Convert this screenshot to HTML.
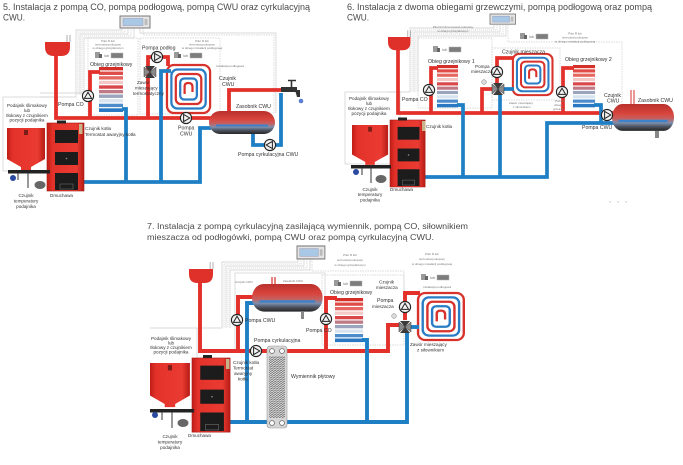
<!DOCTYPE html>
<html><head><meta charset="utf-8"><style>
html,body{margin:0;padding:0;background:#fff;}
svg{display:block;}
text{font-family:"Liberation Sans",sans-serif;}
.ti{font-size:9.3px;fill:#4a4a4a;}
.ti7{font-size:8.6px;fill:#4a4a4a;}
.l{font-size:5.2px;fill:#333;}
.s{font-size:4.6px;fill:#333;}
.t{font-size:3px;fill:#777;}
</style></head><body>
<svg width="683" height="465" viewBox="0 0 683 465" xmlns="http://www.w3.org/2000/svg">
<defs>
 <linearGradient id="bg" x1="0" y1="0" x2="1" y2="0">
  <stop offset="0" stop-color="#c01d17"/><stop offset="0.15" stop-color="#e3322a"/>
  <stop offset="0.8" stop-color="#ea3b32"/><stop offset="1" stop-color="#b51b15"/>
 </linearGradient>
 <linearGradient id="tankg" x1="0" y1="0" x2="0" y2="1">
  <stop offset="0" stop-color="#b8302c"/><stop offset="0.35" stop-color="#d9443c"/>
  <stop offset="0.55" stop-color="#c66060"/><stop offset="0.7" stop-color="#7b8fae"/>
  <stop offset="0.85" stop-color="#4a4f5a"/><stop offset="1" stop-color="#262626"/>
 </linearGradient>
 <pattern id="hatch" width="3" height="2.2" patternUnits="userSpaceOnUse">
  <path d="M0,2 L3,0.4" stroke="#555" stroke-width="0.7"/>
 </pattern>
 <g id="pump">
  <circle r="5.6" fill="#f2f2f2" stroke="#222" stroke-width="1.1"/>
  <path d="M-2.4,-3.6 L3.8,0 L-2.4,3.6 Z" fill="none" stroke="#222" stroke-width="1"/>
 </g>
 <g id="valve">
  <path d="M-5,-6 H5 L0,0 Z M-5,6 H5 L0,0 Z" fill="#3a3a3a"/>
  <path d="M-6,-5 V5 L0,0 Z M6,-5 V5 L0,0 Z" fill="#8a8a8a" stroke="#333" stroke-width="0.5"/>
 </g>
 <g id="boiler">
  <rect x="0" y="0" width="37" height="68" fill="url(#bg)" stroke="#a81d18" stroke-width="0.6"/>
  <rect x="8" y="7" width="23" height="13" fill="#1c1c1c"/>
  <rect x="8" y="29" width="23" height="13" fill="#1c1c1c"/>
  <circle cx="19.5" cy="35.5" r="0.8" fill="#888"/>
  <rect x="8" y="50" width="23" height="17" fill="#1c1c1c"/>
  <rect x="13" y="61" width="13" height="5" fill="none" stroke="#777" stroke-width="0.5"/>
 </g>
 <g id="feeder">
  <path d="M0,0 H38 V31 L24,39 V42 H14 V39 L0,31 Z" fill="url(#bg)"/>
  <rect x="17" y="2" width="4" height="5" fill="#7a1c18"/>
 </g>
 <g id="rad">
  <rect x="0" y="0" width="24" height="3.3" fill="#d42f29"/>
  <rect x="0" y="4.5" width="24" height="3.3" fill="#df4b45"/>
  <rect x="0" y="9" width="24" height="3.3" fill="#e66761"/>
  <rect x="0" y="13.5" width="24" height="3.3" fill="#f3c9c7"/>
  <rect x="0" y="18" width="24" height="3.3" fill="#d9474a"/>
  <rect x="0" y="22.5" width="24" height="3.3" fill="#c07a86"/>
  <rect x="0" y="27" width="24" height="3.3" fill="#9aa5bd"/>
  <rect x="0" y="31.5" width="24" height="3.3" fill="#d8e3f0"/>
  <rect x="0" y="36" width="24" height="3.3" fill="#4d8ccb"/>
  <rect x="0" y="40.5" width="24" height="3.6" fill="#2a78c2"/>
 </g>
 <g id="spiral" fill="none" stroke-width="2.3">
  <rect x="1" y="1" width="44" height="48" rx="7" stroke="#d8322c"/>
  <rect x="5.5" y="5.5" width="35" height="39" rx="6" stroke="#2a7dc4"/>
  <rect x="10" y="10" width="26" height="30" rx="5" stroke="#d8322c"/>
  <rect x="14.5" y="14.5" width="17" height="21" rx="4" stroke="#2a7dc4"/>
  <path d="M19,30 V22 Q19,19 23,19 Q27,19 27,23 V28" stroke="#d8322c"/>
 </g>
 <g id="tank">
  <rect x="0" y="0" width="66" height="23" rx="11" ry="11.5" fill="url(#tankg)"/>
  <path d="M7,14.5 H59" stroke="#3c82c8" stroke-width="2"/>
 </g>
 <g id="ctrl">
  <rect x="0" y="0" width="30" height="12" fill="#e4e4e4" stroke="#7a7a7a" stroke-width="1"/>
  <rect x="3" y="2.5" width="20" height="7" fill="#a8c8e6" stroke="#88a" stroke-width="0.4"/>
  <rect x="24.5" y="3" width="3" height="6" fill="#bbb"/>
 </g>
 <g id="ico">
  <rect x="0" y="0" width="5" height="6" fill="#9a9a9a"/>
  <rect x="4" y="2" width="3" height="4" fill="#666"/>
  <rect x="16" y="1" width="12" height="5" fill="#7d7d7d" stroke="#b5b5b5" stroke-width="0.5"/>
 </g>
 <g id="exp">
  <path d="M0,0 H25 V5 Q25,14 16,14 H9 Q0,14 0,5 Z" fill="#e0302a"/>
  <path d="M22,0 V-7 M25,0 V-7" stroke="#999" stroke-width="0.8"/>
 </g>
</defs>

<!-- ================= TITLES ================= -->
<text class="ti" x="3" y="9.8" textLength="307" lengthAdjust="spacingAndGlyphs">5. Instalacja z pompą CO, pompą podłogową, pompą CWU oraz cyrkulacyjną</text>
<text class="ti" x="3" y="20.5" textLength="22" lengthAdjust="spacingAndGlyphs">CWU.</text>
<text class="ti" x="347" y="9.8" textLength="305" lengthAdjust="spacingAndGlyphs">6. Instalacja z dwoma obiegami grzewczymi, pompą podłogową oraz pompą</text>
<text class="ti" x="347" y="20.5" textLength="22" lengthAdjust="spacingAndGlyphs">CWU.</text>
<text class="ti7" x="147" y="229" textLength="321" lengthAdjust="spacingAndGlyphs">7. Instalacja z pompą cyrkulacyjną zasilającą wymiennik, pompą CO, siłownikiem</text>
<text class="ti7" x="147" y="240" textLength="287" lengthAdjust="spacingAndGlyphs">mieszacza od podłogówki, pompą CWU oraz pompą cyrkulacyjną CWU.</text>

<!-- ================= DIAGRAM 5 ================= -->
<g stroke="#cdcdcd" stroke-width="0.7" fill="none">
 <path d="M122,28 V30 H76 V97 H40"/>
 <path d="M125,28 V32 H78 V95" stroke-dasharray="1.2,0.8"/>
 <path d="M128,28 V34 H80 V95"/>
 <path d="M131,28 V36 H82 V95" stroke-dasharray="1.2,0.8"/>
 <path d="M134,28 V38 H84 V95"/>
 <rect x="3" y="97" width="54" height="74"/>
 <path d="M40,93 H84"/>
 <rect x="88" y="38" width="50" height="77" stroke-dasharray="1.5,1"/>
 <path d="M140,28 V33 H276 V113"/>
 <path d="M143,28 V35 H274 V113" stroke-dasharray="1.5,1"/>
 <rect x="140" y="38" width="80" height="76" stroke-dasharray="1.5,1"/>
</g>
<use href="#ctrl" transform="translate(120,16)"/>
<use href="#exp" transform="translate(45,42)"/>
<use href="#rad" transform="translate(99,67) scale(1,1.02)"/>
<use href="#spiral" transform="translate(166,64) scale(0.98,1)"/>
<g fill="none" stroke-width="3.8" stroke-linejoin="miter">
 <path d="M56,55 V118 H212" stroke="#e3302b"/>
 <path d="M90,118 V72 H100" stroke="#e3302b"/>
 <path d="M148,118 V57 H168 V66" stroke="#e3302b"/>
 <path d="M229,112 V90 H288" stroke="#e3302b"/>
 <path d="M122,109 H126 V182" stroke="#1f7fc4"/>
 <path d="M84,182 H200 V128 H211" stroke="#1f7fc4"/>
 <path d="M171,71 H161 V182" stroke="#1f7fc4"/>
 <path d="M253,133 V145 H281 V93" stroke="#1f7fc4"/>
</g>
<use href="#tank" transform="translate(209,111)"/>
<use href="#boiler" transform="translate(47,123)"/>
<rect x="57" y="120.5" width="9" height="3" fill="#222"/>
<rect x="79" y="124" width="3.5" height="10" fill="#c9b38a"/>
<use href="#feeder" transform="translate(7,128)"/>
<rect x="8" y="170" width="42" height="3.5" fill="#222"/>
<path d="M28,173 V188 M18,173 V180" stroke="#333" stroke-width="1"/>
<circle cx="13" cy="178" r="3" fill="#2a4aa0"/>
<ellipse cx="40" cy="185" rx="5.5" ry="4" fill="#666"/>
<use href="#pump" transform="translate(88,96) rotate(-90)"/>
<use href="#pump" transform="translate(157,57)"/>
<use href="#pump" transform="translate(186,118)"/>
<use href="#pump" transform="translate(270,145) rotate(180)"/>
<use href="#valve" transform="translate(150,72)"/>
<path d="M281,87 H297 V92 H281 Z" fill="#333"/>
<path d="M295,90 H300 V97 H297 Z" fill="#333"/>
<path d="M291.5,87 V81 M288,80.5 H296" stroke="#333" stroke-width="1.6"/>
<circle cx="301" cy="101" r="2.3" fill="#5b7fd0"/>
<use href="#ico" transform="translate(95,52)"/>
<text class="t" x="104" y="57" style="font-size:3.8px">lub</text>
<use href="#ico" transform="translate(174,52)"/>
<text class="t" x="183" y="57" style="font-size:3.8px">lub</text>
<text class="t" text-anchor="middle" x="108" y="42">Pilot R lub</text>
<text class="t" text-anchor="middle" x="108" y="45.5">termostat pokojowy</text>
<text class="t" text-anchor="middle" x="108" y="49">w obiegu grzejnikowym</text>
<text class="t" text-anchor="middle" x="202" y="42">Pilot R lub</text>
<text class="t" text-anchor="middle" x="202" y="45.5">termostat pokojowy</text>
<text class="t" text-anchor="middle" x="202" y="49">w obiegu instalacji podłogowej</text>
<text class="t" x="216" y="67">Instalacja podłogowa</text>
<text class="l" x="90" y="66">Obieg grzejnikowy</text>
<text class="l" x="142" y="49.5">Pompa podłog</text>
<text class="s" x="137" y="84">Zawór</text>
<text class="s" x="135" y="89.5">mieszający</text>
<text class="s" x="133" y="95">termostatyczny</text>
<text class="l" x="58" y="106">Pompa CO</text>
<g class="s" text-anchor="middle">
 <text x="27" y="107">Podajnik ślimakowy</text>
 <text x="27" y="112">lub</text>
 <text x="27" y="117">tłokowy z czujnikiem</text>
 <text x="27" y="121.5">pozycji podajnika</text>
 <text x="26" y="197">Czujnik</text>
 <text x="26" y="202.5">temperatury</text>
 <text x="26" y="208">podajnika</text>
</g>
<text class="s" x="50" y="197">Dmuchawa</text>
<text class="s" x="85" y="130">Czujnik kotła</text>
<text class="s" x="85" y="136">Termostat awaryjny kotła</text>
<text class="l" x="219" y="80">Czujnik</text>
<text class="l" x="222" y="86">CWU</text>
<text class="l" x="236" y="108">Zasobnik CWU</text>
<text class="l" x="178" y="129.5">Pompa</text>
<text class="l" x="180" y="135.5">CWU</text>
<text class="l" x="238" y="156">Pompa cyrkulacyjna CWU</text>

<!-- ================= DIAGRAM 6 ================= -->
<g stroke="#cdcdcd" stroke-width="0.7" fill="none">
 <path d="M494,25 V28 H410 V92 H388"/>
 <path d="M497,25 V30 H412 V92" stroke-dasharray="1.2,0.8"/>
 <path d="M500,25 V32 H414 V92"/>
 <path d="M503,25 V34 H416 V92" stroke-dasharray="1.2,0.8"/>
 <path d="M506,25 V36 H418 V92"/>
 <rect x="345" y="92" width="55" height="72"/>
 <rect x="418" y="38" width="74" height="70" stroke-dasharray="1.5,1"/>
 <path d="M508,25 V42 H622 V104" stroke-dasharray="1.5,1"/>
 <rect x="492" y="48" width="68" height="52" stroke-dasharray="1.5,1"/>
</g>
<use href="#ctrl" transform="translate(490,14) scale(0.85)"/>
<use href="#exp" transform="translate(388,37) scale(0.9,0.95)"/>
<use href="#rad" transform="translate(437,65) scale(0.875,0.96)"/>
<use href="#rad" transform="translate(573,65) scale(0.92,0.96)"/>
<use href="#spiral" transform="translate(512,53) scale(0.9,0.86)"/>
<g fill="none" stroke-width="3.7">
 <path d="M398,50 V113 H615" stroke="#e3302b"/>
 <path d="M431,113 V68 H438" stroke="#e3302b"/>
 <path d="M482,113 V89 H493" stroke="#e3302b"/>
 <path d="M497,84 V58 H514" stroke="#e3302b"/>
 <path d="M563,113 V68 H574" stroke="#e3302b"/>
 <path d="M457,105 H463 V177" stroke="#1f7fc4"/>
 <path d="M425,177 H547 V123 H614" stroke="#1f7fc4"/>
 <path d="M500,95 V177" stroke="#1f7fc4"/>
 <path d="M503,89 H514" stroke="#1f7fc4"/>
 <path d="M594,105 H601 V123" stroke="#1f7fc4"/>
</g>
<path d="M631,90 V104 M634,90 V104" stroke="#d8322c" stroke-width="1"/>
<use href="#tank" transform="translate(612,104) scale(0.94,1.17)"/>
<rect x="655" y="131" width="4" height="7" fill="#888"/>
<use href="#boiler" transform="translate(390,120) scale(0.95,0.985)"/>
<rect x="398" y="117.5" width="9" height="3" fill="#222"/>
<rect x="422" y="121" width="3.5" height="10" fill="#c9b38a"/>
<use href="#feeder" transform="translate(352,125) scale(0.95,0.95)"/>
<rect x="351" y="165" width="40" height="3.5" fill="#222"/>
<path d="M371,168 V183 M362,168 V175" stroke="#333" stroke-width="1"/>
<circle cx="356" cy="172" r="3" fill="#2a4aa0"/>
<ellipse cx="381" cy="179" rx="5.5" ry="4" fill="#666"/>
<use href="#pump" transform="translate(429,90) rotate(-90)"/>
<use href="#pump" transform="translate(497,72) rotate(-90)"/>
<use href="#pump" transform="translate(562,92) rotate(-90)"/>
<use href="#pump" transform="translate(607,115)"/>
<use href="#valve" transform="translate(498,89)"/>
<circle cx="484" cy="82" r="2.3" fill="#ddd" stroke="#777" stroke-width="0.5"/>
<use href="#ico" transform="translate(433,46)"/>
<text class="t" x="442" y="51" style="font-size:3.8px">lub</text>
<use href="#ico" transform="translate(520,33)"/>
<text class="t" x="529" y="38" style="font-size:3.8px">lub</text>
<text class="t" text-anchor="middle" x="453" y="28">Pilot R lub termostat pokojowy</text>
<text class="t" text-anchor="middle" x="453" y="32">w obiegu grzejnikowym</text>
<text class="t" text-anchor="middle" x="575" y="34.5">Pilot R lub</text>
<text class="t" text-anchor="middle" x="575" y="38.5">termostat pokojowy</text>
<text class="t" text-anchor="middle" x="575" y="42.5">w obiegu instalacji podłogowej</text>
<text class="l" x="428" y="63">Obieg grzejnikowy 1</text>
<text class="l" x="565" y="61">Obieg grzejnikowy 2</text>
<text class="l" x="502" y="53.5">Czujnik mieszacza</text>
<text class="s" x="475" y="68">Pompa</text>
<text class="s" x="471" y="73">mieszacza</text>
<text class="t" x="509" y="104">Zawór mieszający</text>
<text class="t" x="513" y="108">z siłownikiem</text>
<text class="t" x="555" y="102">Pompa</text>
<text class="t" x="554" y="106">obiegu</text>
<text class="t" x="553" y="110">grzejnik.</text>
<text class="l" x="402" y="101">Pompa CO</text>
<text class="s" x="426" y="128">Czujnik kotła</text>
<g class="s" text-anchor="middle">
 <text x="369" y="100">Podajnik ślimakowy</text>
 <text x="369" y="105">lub</text>
 <text x="369" y="110">tłokowy z czujnikiem</text>
 <text x="369" y="115">pozycji podajnika</text>
 <text x="370" y="191">Czujnik</text>
 <text x="370" y="196">temperatury</text>
 <text x="370" y="201.5">podajnika</text>
</g>
<text class="s" x="390" y="191">Dmuchawa</text>
<text class="l" x="604" y="97">Czujnik</text>
<text class="l" x="607" y="102.5">CWU</text>
<text class="l" x="638" y="102">Zasobnik CWU</text>
<text class="l" x="582" y="129">Pompa CWU</text>
<circle cx="610" cy="202" r="0.6" fill="#aaa"/><circle cx="618" cy="202" r="0.6" fill="#aaa"/><circle cx="626" cy="202" r="0.6" fill="#aaa"/>

<!-- ================= DIAGRAM 7 ================= -->
<g stroke="#cdcdcd" stroke-width="0.7" fill="none">
 <path d="M298,259 V262 H222 V328 H150"/>
 <path d="M301,259 V264 H224 V328" stroke-dasharray="1.2,0.8"/>
 <path d="M304,259 V266 H226 V328"/>
 <path d="M307,259 V268 H228 V328" stroke-dasharray="1.2,0.8"/>
 <path d="M310,259 V270 H230 V328"/>
 <path d="M197,328 V362"/>
 <rect x="235" y="273" width="90" height="78"/>
 <path d="M312,259 V271 H404 V300" stroke-dasharray="1.5,1"/>
 <rect x="322" y="275" width="82" height="70" stroke-dasharray="1.5,1"/>
</g>
<use href="#ctrl" transform="translate(297,246) scale(0.93,1.08)"/>
<use href="#exp" transform="translate(189,269) scale(0.96,1)"/>
<use href="#rad" transform="translate(335,298) scale(1.17,1)"/>
<use href="#spiral" transform="translate(417,292) scale(1.04,0.98)"/>
<g fill="none" stroke-width="3.9">
 <path d="M200,283 V351 H388 V325 H401" stroke="#e3302b"/>
 <path d="M238,351 V297 H256" stroke="#e3302b"/>
 <path d="M326,351 V298 H337" stroke="#e3302b"/>
 <path d="M405,320 V293 H420" stroke="#e3302b"/>
 <path d="M247,422 V303 H258" stroke="#1f7fc4"/>
 <path d="M230,422 H407 V333" stroke="#1f7fc4"/>
 <path d="M362,340 H367 V422" stroke="#1f7fc4"/>
 <path d="M409,327 H419" stroke="#1f7fc4"/>
</g>
<path d="M272,277 V285 M275,277 V285" stroke="#d8322c" stroke-width="1.2"/>
<use href="#tank" transform="translate(252,284) scale(1.07,1.2)"/>
<rect x="301" y="312" width="3" height="7" fill="#888"/>
<rect x="267" y="346" width="20" height="82" rx="3" fill="#d6d6d6" stroke="#999" stroke-width="0.6"/>
<rect x="269" y="356" width="16" height="62" fill="url(#hatch)"/>
<circle cx="272" cy="351" r="2.4" fill="#fff" stroke="#666" stroke-width="0.8"/>
<circle cx="282" cy="351" r="2.4" fill="#fff" stroke="#666" stroke-width="0.8"/>
<circle cx="272" cy="423" r="2.4" fill="#fff" stroke="#666" stroke-width="0.8"/>
<circle cx="282" cy="423" r="2.4" fill="#fff" stroke="#666" stroke-width="0.8"/>
<use href="#boiler" transform="translate(192,358) scale(1.03,1.09)"/>
<rect x="203" y="355" width="9" height="3" fill="#222"/>
<rect x="226" y="359" width="3.5" height="10" fill="#c9b38a"/>
<use href="#feeder" transform="translate(150,363) scale(1.05,1.05)"/>
<rect x="150" y="409" width="44" height="3.5" fill="#222"/>
<path d="M172,412 V428 M162,412 V420" stroke="#333" stroke-width="1"/>
<circle cx="155" cy="415" r="3" fill="#2a4aa0"/>
<ellipse cx="183" cy="423" rx="5.5" ry="4" fill="#666"/>
<use href="#pump" transform="translate(237,320) rotate(-90)"/>
<use href="#pump" transform="translate(256,351)"/>
<use href="#pump" transform="translate(326,319) rotate(-90)"/>
<use href="#pump" transform="translate(405,307) rotate(-90)"/>
<use href="#valve" transform="translate(405,327)"/>
<circle cx="394" cy="316" r="2.3" fill="#ddd" stroke="#777" stroke-width="0.5"/>
<use href="#ico" transform="translate(334,280)"/>
<text class="t" x="343" y="285" style="font-size:3.8px">lub</text>
<use href="#ico" transform="translate(421,274)"/>
<text class="t" x="430" y="279" style="font-size:3.8px">lub</text>
<text class="t" text-anchor="middle" x="350" y="256">Pilot R lub</text>
<text class="t" text-anchor="middle" x="350" y="261">termostat pokojowy</text>
<text class="t" text-anchor="middle" x="350" y="266">w obiegu grzejnikowym</text>
<text class="t" text-anchor="middle" x="432" y="255">Pilot R lub</text>
<text class="t" text-anchor="middle" x="432" y="260">termostat pokojowy</text>
<text class="t" text-anchor="middle" x="432" y="265">w obiegu instalacji podłogowej</text>
<text class="t" x="423" y="288">Instalacja podłogowa</text>
<text class="t" x="235" y="283">Czujnik CWU</text>
<text class="t" x="283" y="282">Zasobnik CWU</text>
<text class="l" x="330" y="294">Obieg grzejnikowy</text>
<text class="s" x="379" y="283.5">Czujnik</text>
<text class="s" x="376" y="289">mieszacza</text>
<text class="l" x="377" y="302">Pompa</text>
<text class="s" x="372" y="308">mieszacza</text>
<text class="s" x="410" y="346">Zawór mieszający</text>
<text class="s" x="417" y="351.5">z siłownikiem</text>
<text class="l" x="306" y="332">Pompa CO</text>
<text class="l" x="245" y="322">Pompa CWU</text>
<text class="l" x="254" y="342">Pompa cyrkulacyjna</text>
<text class="l" x="291" y="378">Wymiennik płytowy</text>
<text class="s" x="233" y="364">Czujnik kotła</text>
<text class="s" x="233" y="369.5">Termostat</text>
<text class="s" x="234" y="375">awaryjny</text>
<text class="s" x="238" y="380.5">kotła</text>
<g class="s" text-anchor="middle">
 <text x="171" y="340">Podajnik ślimakowy</text>
 <text x="171" y="344.5">lub</text>
 <text x="171" y="349">tłokowy z czujnikiem</text>
 <text x="171" y="353.5">pozycji podajnika</text>
 <text x="170" y="438">Czujnik</text>
 <text x="170" y="443.5">temperatury</text>
 <text x="170" y="449">podajnika</text>
</g>
<text class="s" x="188" y="437">Dmuchawa</text>
</svg>
</body></html>
